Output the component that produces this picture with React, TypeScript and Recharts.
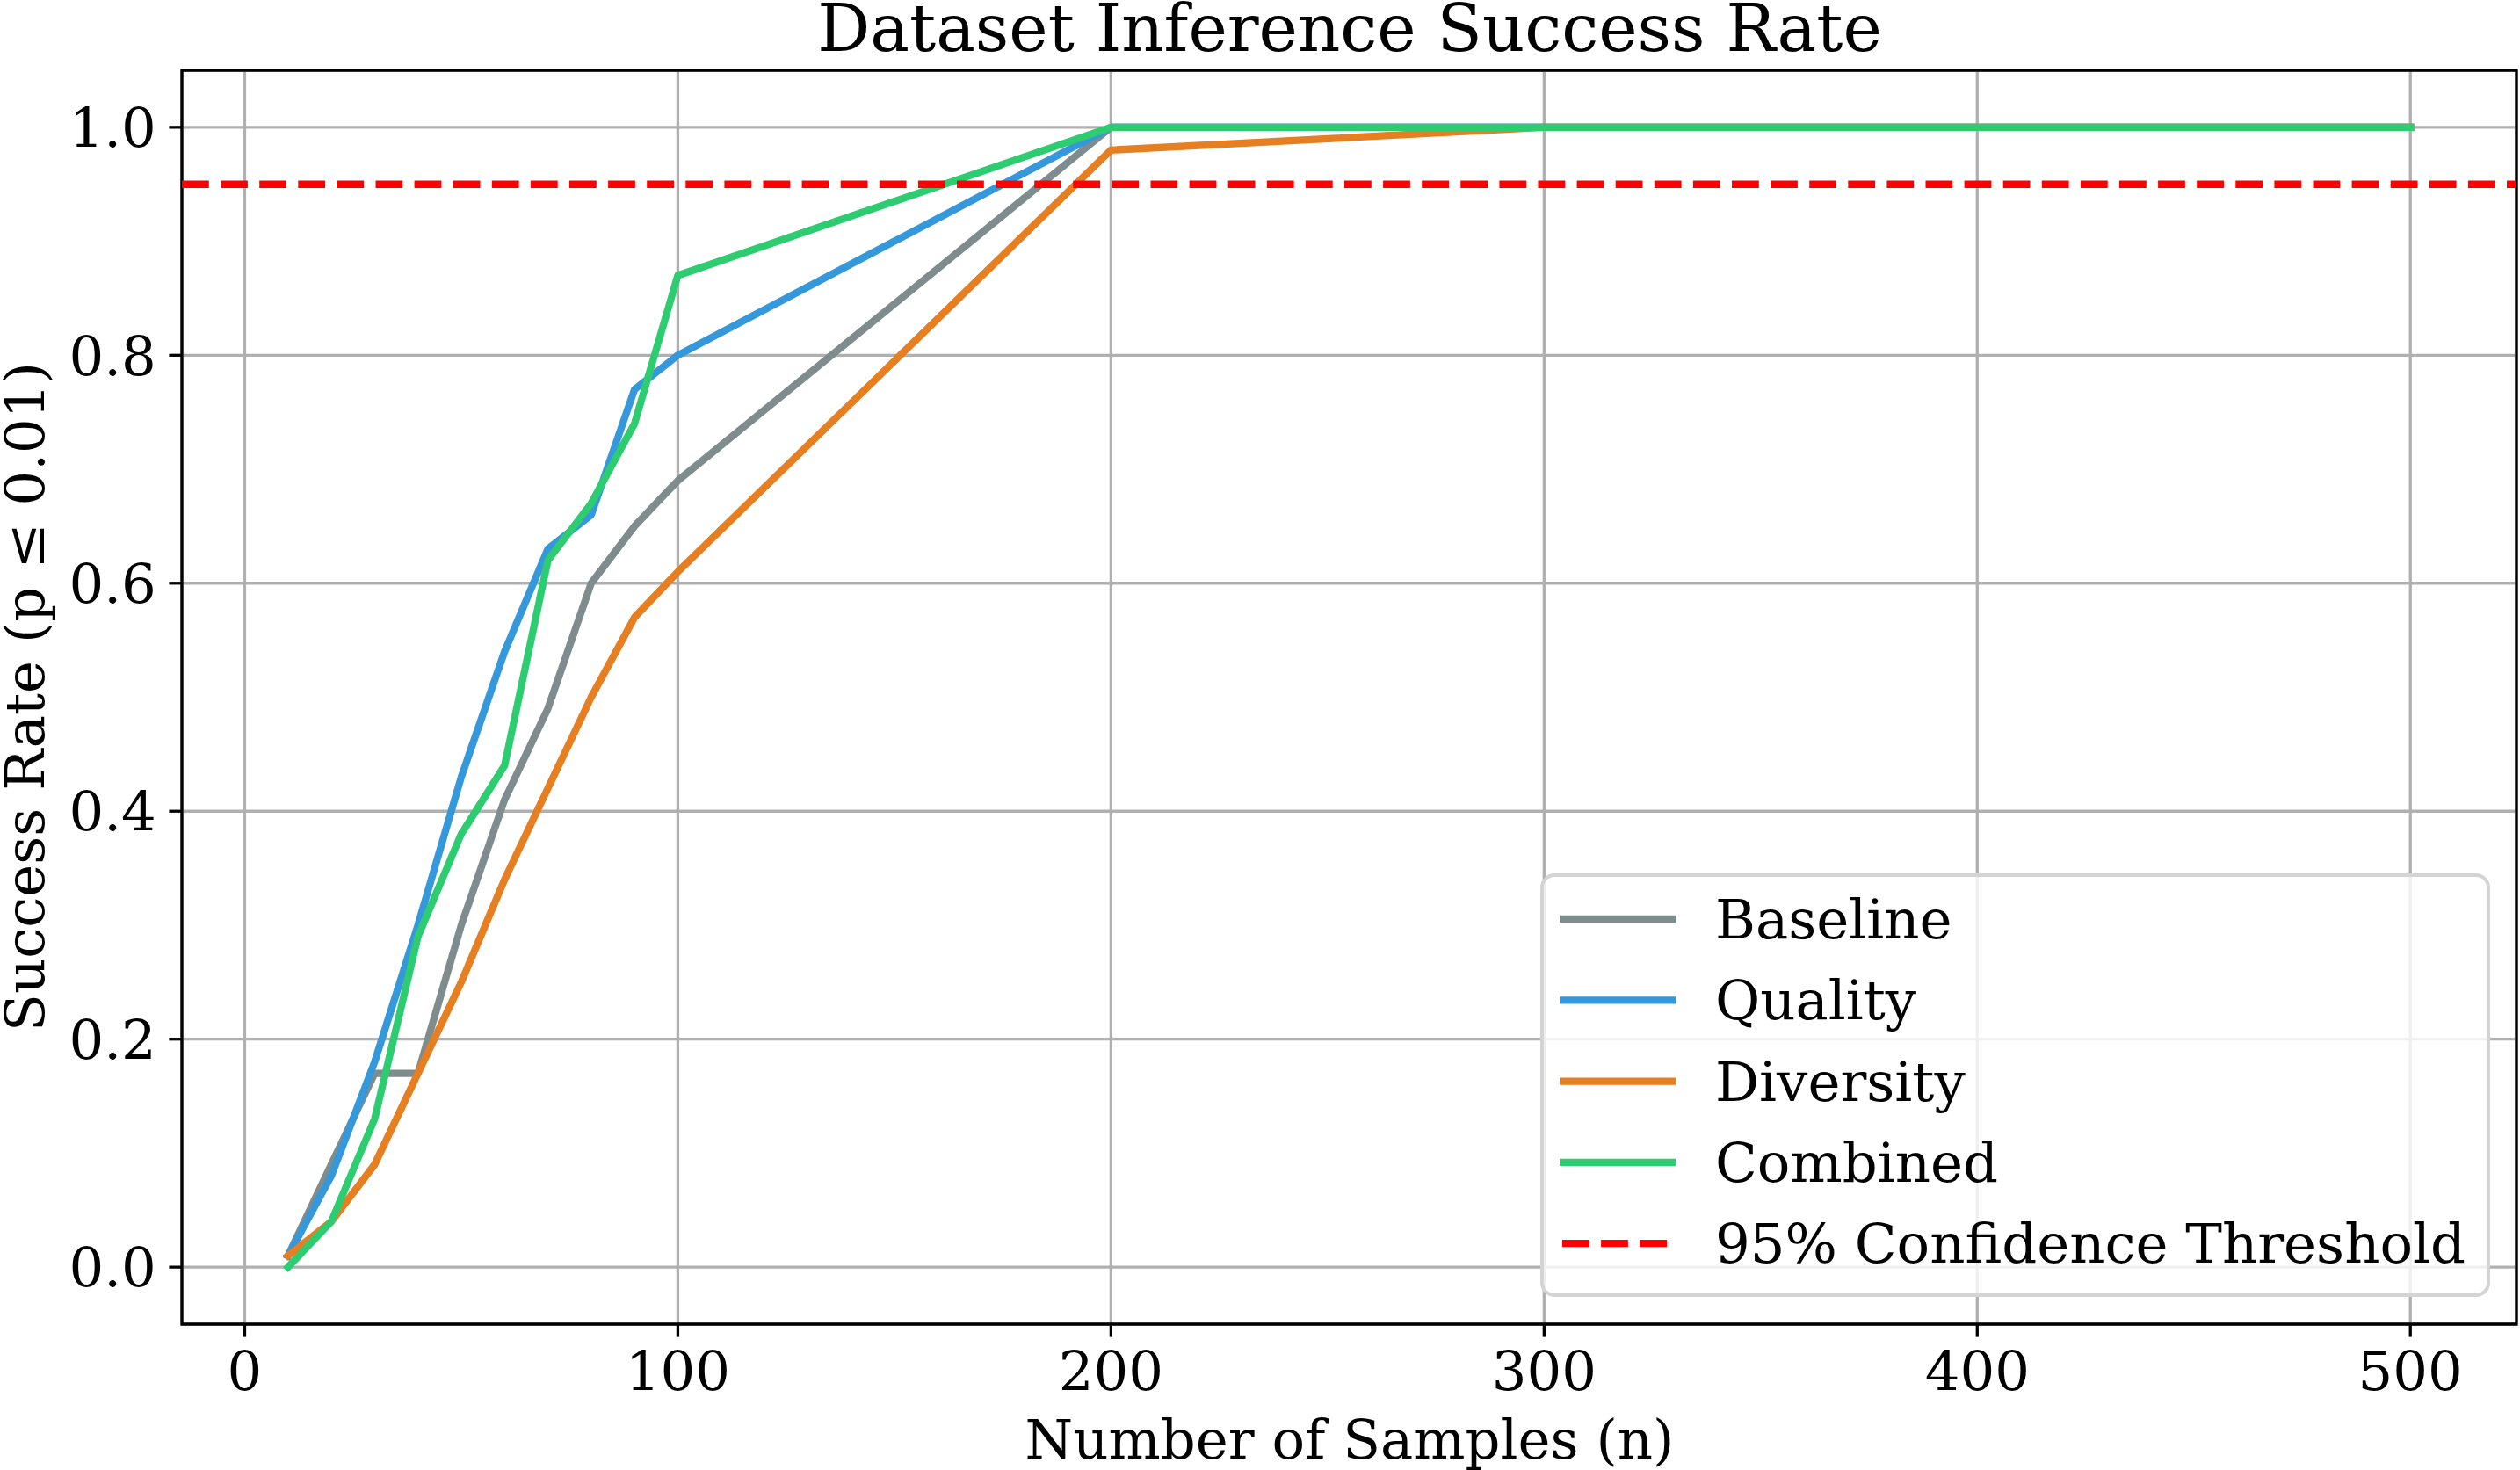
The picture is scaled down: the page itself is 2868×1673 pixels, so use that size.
import { LineChart, Line, XAxis, YAxis, CartesianGrid, ReferenceLine, ReferenceArea } from 'recharts';

const SERIF = "'DejaVu Serif', 'Liberation Serif', serif";
const W = 2868;
const H = 1673;

// samples on the x axis
const samples = [10, 20, 30, 40, 50, 60, 70, 80, 90, 100, 200, 300, 400, 500];

// success rate per method
const baseline = [0.01, 0.09, 0.17, 0.17, 0.3, 0.41, 0.49, 0.6, 0.65, 0.69, 1.0, 1.0, 1.0, 1.0];
const quality = [0.01, 0.08, 0.18, 0.3, 0.43, 0.54, 0.63, 0.66, 0.77, 0.8, 1.0, 1.0, 1.0, 1.0];
const diversity = [0.01, 0.04, 0.09, 0.17, 0.25, 0.34, 0.42, 0.5, 0.57, 0.61, 0.98, 1.0, 1.0, 1.0];
const combined = [0.0, 0.04, 0.13, 0.29, 0.38, 0.44, 0.62, 0.67, 0.74, 0.87, 1.0, 1.0, 1.0, 1.0];

const threshold = 0.95;
const xTicks = [0, 100, 200, 300, 400, 500];
const yTicks = [0, 0.2, 0.4, 0.6, 0.8, 1.0];
const xDomain: [number, number] = [-14.5, 524.5];
const yDomain: [number, number] = [-0.05, 1.05];

const series = [
  { key: 'baseline', name: 'Baseline', color: '#7f8c8d', values: baseline },
  { key: 'quality', name: 'Quality', color: '#3498db', values: quality },
  { key: 'diversity', name: 'Diversity', color: '#e67e22', values: diversity },
  { key: 'combined', name: 'Combined', color: '#2ecc71', values: combined },
];

const data = samples.map((n, i) => {
  const row: Record<string, number> = { n };
  series.forEach((s) => {
    row[s.key] = s.values[i];
  });
  return row;
});

const legendItems = [
  ...series.map((s) => ({ name: s.name, color: s.color, dashed: false })),
  { name: '95% Confidence Threshold', color: '#ff0000', dashed: true },
];

const LW = 8.3;
const DASH = '30.8 13.3';
const tickStyle = { fill: '#000', fontSize: 62.5, fontFamily: SERIF };

export default function App() {
  return (
    <div style={{ position: 'absolute', left: 0, top: 0, width: W, height: H, background: '#fff' }}>
      <LineChart width={W} height={H} data={data} margin={{ top: 80, right: 4, bottom: 0, left: 0 }}>
        <CartesianGrid stroke="#b0b0b0" strokeWidth={3.3} />
        <XAxis
          dataKey="n"
          type="number"
          domain={xDomain}
          ticks={xTicks}
          allowDataOverflow
          height={166}
          axisLine={false}
          tickLine={{ stroke: '#000', strokeWidth: 3.3 }}
          tickSize={14.6}
          tickMargin={16}
          tick={tickStyle}
        />
        <YAxis
          type="number"
          domain={yDomain}
          ticks={yTicks}
          allowDataOverflow
          width={207}
          axisLine={false}
          tickLine={{ stroke: '#000', strokeWidth: 3.3 }}
          tickSize={14.6}
          tickMargin={14.6}
          tick={tickStyle}
          tickFormatter={(v: number) => v.toFixed(1)}
        />
        {series.map((s) => (
          <Line
            key={s.key}
            type="linear"
            dataKey={s.key}
            name={s.name}
            stroke={s.color}
            strokeWidth={LW}
            strokeLinejoin="round"
            strokeLinecap="square"
            dot={false}
            activeDot={false}
            isAnimationActive={false}
          />
        ))}
        <ReferenceLine y={threshold} stroke="#ff0000" strokeWidth={LW} strokeDasharray={DASH} />
        <ReferenceArea
          x1={xDomain[0]}
          x2={xDomain[1]}
          y1={yDomain[0]}
          y2={yDomain[1]}
          fill="none"
          fillOpacity={0}
          stroke="#000"
          strokeWidth={3.3}
        />
      </LineChart>
      <svg
        width={W}
        height={H}
        style={{ position: 'absolute', left: 0, top: 0, pointerEvents: 'none' }}
        fontFamily={SERIF}
      >
        <text x={1536} y={58} textAnchor="middle" fontSize={75}>
          Dataset Inference Success Rate
        </text>
        <text x={1536} y={1660} textAnchor="middle" fontSize={62.5}>
          Number of Samples (n)
        </text>
        <text transform="translate(50, 793) rotate(-90)" textAnchor="middle" fontSize={62.5}>
          Success Rate (p ≤ 0.01)
        </text>
        <g>
          <rect
            x={1755}
            y={996}
            width={1077}
            height={478}
            rx={14}
            ry={14}
            fill="rgba(255,255,255,0.8)"
            stroke="#d4d4d4"
            strokeWidth={4}
          />
          {legendItems.map((item, i) => {
            const cy = 1046 + i * 92.3;
            return (
              <g key={item.name}>
                <line
                  x1={item.dashed ? 1778 : 1775}
                  x2={1907}
                  y1={cy}
                  y2={cy}
                  stroke={item.color}
                  strokeWidth={LW}
                  strokeDasharray={item.dashed ? DASH : undefined}
                />
                <text x={1952} y={cy + 22} fontSize={62.5} fill="#000">
                  {item.name}
                </text>
              </g>
            );
          })}
        </g>
      </svg>
    </div>
  );
}
